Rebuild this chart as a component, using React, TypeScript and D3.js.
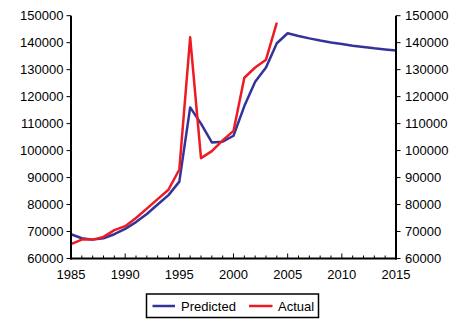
import React from "react";
import * as d3 from "d3";

const predYears = d3.range(1985, 2016);
const predicted = [
  69000, 67500, 67000, 67500, 69000, 71000, 73500, 76500, 80000, 83500,
  88500, 116000, 110000, 103000, 103300, 105500, 116500, 125500, 130800, 139800,
  143500, 142500, 141600, 140800, 140100, 139500, 138900, 138400, 137900, 137500, 137100,
];
const actualYears = d3.range(1985, 2005);
const actual = [
  65300, 67000, 67000, 68000, 70500, 72000, 75000, 78500, 82000, 85500,
  93000, 142000, 97200, 99800, 103800, 107300, 127000, 130800, 133700, 147400,
];
const yTicks = [60000, 70000, 80000, 90000, 100000, 110000, 120000, 130000, 140000, 150000];
const xTicks = [1985, 1990, 1995, 2000, 2005, 2010, 2015];
const seriesNames = ["Predicted", "Actual"];

const BLUE = "#333399";
const RED = "#ED1C24";
const FONT = "'Liberation Sans', Arial, Helvetica, sans-serif";

export default function App() {
  const W = 451, H = 322;
  const left = 71, right = 396, top = 15.7, bottom = 258.5;
  const x = d3.scaleLinear().domain([1985, 2015]).range([left, right]);
  const y = d3.scaleLinear().domain([60000, 150000]).range([bottom, top]);
  const line = d3.line<[number, number]>().x(d => x(d[0])).y(d => y(d[1]));
  const predPath = line(predYears.map((yr, i) => [yr, predicted[i]]))!;
  const actPath = line(actualYears.map((yr, i) => [yr, actual[i]]))!;
  const minor = d3.range(1985, 2016);

  return (
    <svg width={W} height={H} style={{ position: "absolute", left: 0, top: 0 }}>
      <rect width={W} height={H} fill="#fff" />
      <g fontFamily={FONT} fontSize={13} fill="#000">
        {yTicks.map(v => (
          <g key={"l" + v}>
            <line x1={left - 4.5} x2={left} y1={y(v)} y2={y(v)} stroke="#000" strokeWidth={1} />
            <text x={left - 7.5} y={y(v) + 4.5} textAnchor="end">{v}</text>
            <line x1={right} x2={right + 4.5} y1={y(v)} y2={y(v)} stroke="#000" strokeWidth={1} />
            <text x={right + 9} y={y(v) + 4.5} textAnchor="start">{v}</text>
          </g>
        ))}
        {minor.map(yr => (
          <line key={"m" + yr} x1={x(yr)} x2={x(yr)} y1={bottom} y2={bottom - (yr % 5 === 0 ? 5 : 3)} stroke="#000" strokeWidth={1} />
        ))}
        {xTicks.map(yr => (
          <text key={"x" + yr} x={x(yr)} y={279} textAnchor="middle">{yr}</text>
        ))}
      </g>
      <path d={predPath} fill="none" stroke={BLUE} strokeWidth={2.5} strokeLinejoin="round" />
      <path d={actPath} fill="none" stroke={RED} strokeWidth={2.5} strokeLinejoin="round" />
      <line x1={left} x2={left} y1={top} y2={bottom + 1} stroke="#000" strokeWidth={2} />
      <line x1={right} x2={right} y1={top} y2={bottom + 1} stroke="#000" strokeWidth={2} />
      <line x1={left - 1} x2={right + 1} y1={bottom} y2={bottom} stroke="#000" strokeWidth={2} />
      <g fontFamily={FONT} fontSize={13}>
        <rect x={146.5} y={294} width={172} height={23.5} fill="#fff" stroke="#000" strokeWidth={1.5} />
        <line x1={152.5} x2={175} y1={306} y2={306} stroke={BLUE} strokeWidth={2.5} />
        <text x={181} y={310.5}>{seriesNames[0]}</text>
        <line x1={249} x2={272.5} y1={306} y2={306} stroke={RED} strokeWidth={2.5} />
        <text x={278} y={310.5}>{seriesNames[1]}</text>
      </g>
    </svg>
  );
}
